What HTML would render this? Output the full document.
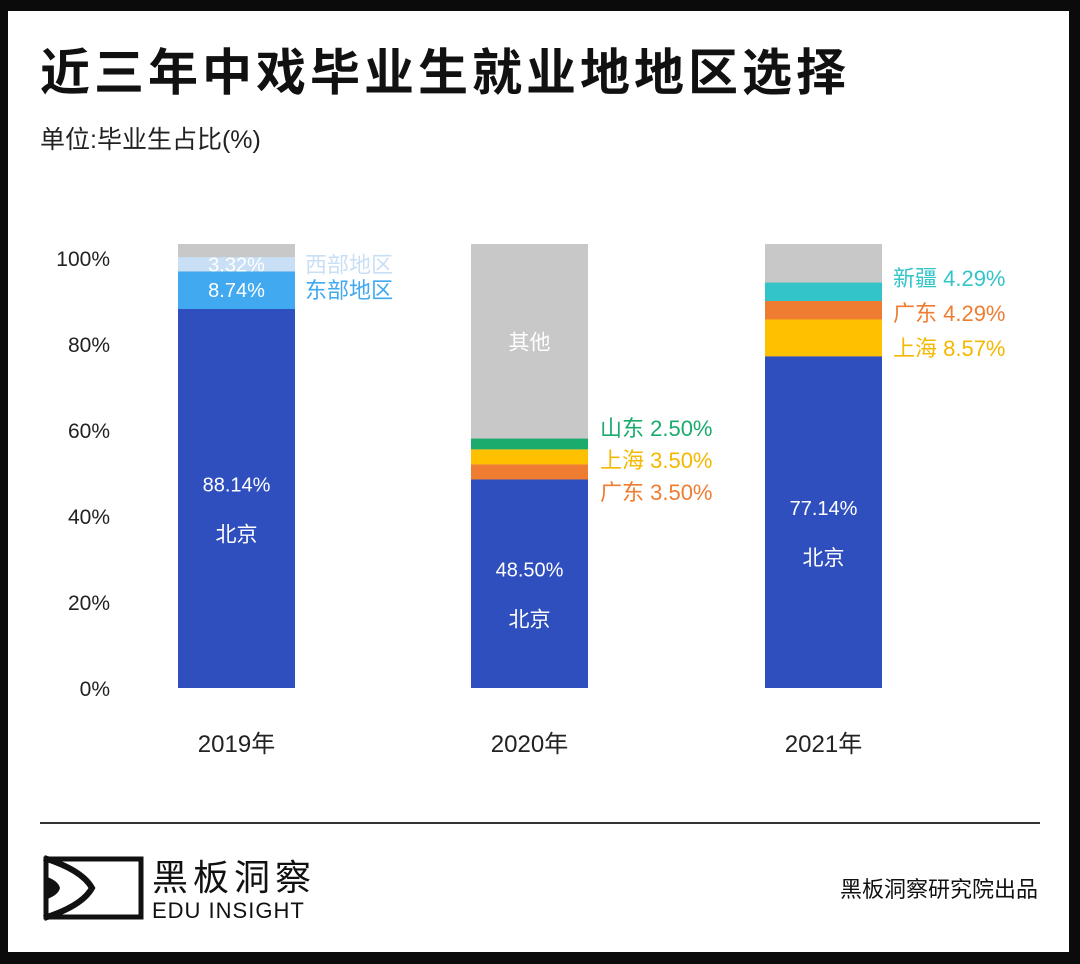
<!DOCTYPE html>
<html><head><meta charset="utf-8"><style>
body{margin:0;background:#0b0b0b;}
svg{display:block;font-family:"Liberation Sans","Noto Sans CJK SC",sans-serif;}
</style></head><body>
<svg id="c" width="1080" height="964" xmlns="http://www.w3.org/2000/svg">
<rect x="0" y="0" width="1080" height="964" fill="#0b0b0b"/>
<rect x="8" y="11" width="1061" height="941" fill="#ffffff"/>
<text x="40" y="90" font-size="50" font-weight="bold" letter-spacing="4" fill="#111">近三年中戏毕业生就业地地区选择</text>
<text x="40" y="148" font-size="25" fill="#222">单位:毕业生占比(%)</text>
<g id="axis"></g>
<g id="bars"></g>
<line x1="40" y1="823" x2="1040" y2="823" stroke="#333" stroke-width="2"/>
<g>
<rect x="46" y="859" width="95" height="58" fill="none" stroke="#111" stroke-width="5"/>
<path d="M44 858 Q82 870 92 888 Q82 906 44 918" fill="none" stroke="#111" stroke-width="6"/>
<path d="M44 876 Q58 880 60 888 Q58 896 44 900 Z" fill="#111"/>
<text x="152" y="890" font-size="36" fill="#111" letter-spacing="5">黑板洞察</text>
<text x="152" y="918" font-size="22" fill="#111" letter-spacing="1">EDU INSIGHT</text>
</g>
<text x="1038" y="897" font-size="22" fill="#111" text-anchor="end">黑板洞察研究院出品</text>
</svg>
<script>
const years = ["2019年","2020年","2021年"];
const beijing = [88.14, 48.50, 77.14];
const seg2019Names = ["东部地区","西部地区"];
const seg2019Values = [8.74, 3.32];
const seg2020Names = ["广东","上海","山东"];
const seg2020Values = [3.50, 3.50, 2.50];
const seg2021Names = ["上海","广东","新疆"];
const seg2021Values = [8.57, 4.29, 4.29];
const yTicks = [0,20,40,60,80,100];
const yTickLabels = ["0%","20%","40%","60%","80%","100%"];

const NS="http://www.w3.org/2000/svg";
const y0=688, ppu=4.3, barTop=244, barW=117;
const xs=[178,471,765];
function y(v){return y0 - v*ppu;}
function mk(tag,attrs,parent,text){const e=document.createElementNS(NS,tag);for(const k in attrs)e.setAttribute(k,attrs[k]);if(text!==undefined)e.textContent=text;parent.appendChild(e);return e;}
const axis=document.getElementById('axis'), bars=document.getElementById('bars');
yTicks.forEach((t,i)=>{
  const e=mk('text',{x:110,y:y(t)+8,'font-size':21,fill:'#222','text-anchor':'end'},axis,yTickLabels[i]);
  
  
});
const segs=[[seg2019Names,seg2019Values,["#41a9ef","#c9dff5"],["#41a9ef","#c9dff5"]],
            [seg2020Names,seg2020Values,["#ef7d31","#ffc000","#1bab6c"],["#ef7d31","#f5b800","#1bab6c"]],
            [seg2021Names,seg2021Values,["#ffc000","#ef7d31","#33c4c9"],["#f5b800","#ef7d31","#33c4c9"]]];
years.forEach((yr,i)=>{
  const x=xs[i];
  let cum=0;
  const g=mk('rect',{x:x,y:barTop,width:barW,height:y0-barTop,fill:'#c8c8c8'},bars);
  
  
  const b=mk('rect',{x:x,y:y(beijing[i]),width:barW,height:beijing[i]*ppu,fill:'#2f4fbf'},bars);
  
  
  const cy=(y(beijing[i])+y0)/2;
  const l1=mk('text',{x:x+barW/2,y:cy-7,'font-size':20,fill:'#fff','text-anchor':'middle'},bars,beijing[i].toFixed(2)+'%');
  
  
  const l2=mk('text',{x:x+barW/2,y:cy+43,'font-size':21,fill:'#fff','text-anchor':'middle'},bars,'北京');
  
  
  cum=beijing[i];
  const [names,vals,cols,tcols]=segs[i];
  vals.forEach((v,j)=>{
    const top=y(cum+v), h=v*ppu;
    const r=mk('rect',{x:x,y:top,width:barW,height:h,fill:cols[j]},bars);
    
    
    const mid=top+h/2;
    if(i===0){
      const t=mk('text',{x:x+barW/2,y:mid+7,'font-size':20,fill:'#fff','text-anchor':'middle'},bars,v.toFixed(2)+'%');
      
      
      const n=mk('text',{x:x+barW+10,y:mid+8,'font-size':22,fill:tcols[j]},bars,names[j]);
      
      
    }
    cum+=v;
  });
  if(i===1){
    const o=mk('text',{x:x+barW/2,y:(barTop+y(cum))/2+8,'font-size':21,fill:'#fff','text-anchor':'middle'},bars,'其他');
    
    
  }
});
const side=[[1,600,[492,460,428]],[2,893,[348,313,278]]];
side.forEach(([i,lx,ys])=>{
  const [names,vals,cols,tcols]=segs[i];
  names.forEach((n,j)=>{
    const t=mk('text',{x:lx,y:ys[j]+8,'font-size':22,fill:tcols[j]},bars,n+'  '+vals[j].toFixed(2)+'%');
    t.setAttribute('xml:space','preserve');
    
    
  });
});
years.forEach((yr,i)=>{
  const t=mk('text',{x:xs[i]+barW/2,y:752,'font-size':24,fill:'#222','text-anchor':'middle'},axis,yr);
  
  
});
</script>
</body></html>
